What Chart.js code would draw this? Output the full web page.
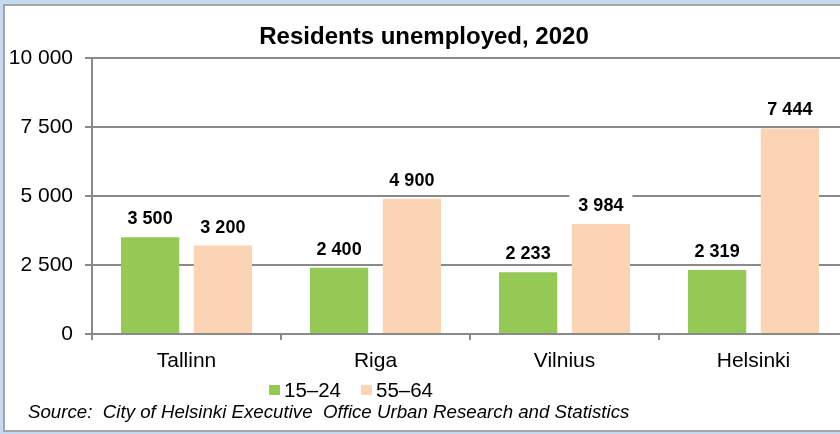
<!DOCTYPE html>
<html>
<head>
<meta charset="utf-8">
<script src="https://cdn.jsdelivr.net/npm/chart.js@4"></script>
<style>
  html, body { margin: 0; padding: 0; width: 840px; height: 434px; overflow: hidden; background: #c5d9f1; }
  #frame { position: absolute; left: 3px; top: 4px; width: 900px; height: 428px; box-sizing: border-box;
           border: 2px solid #a6a6a6; background: #fff; }
  #wrap { position: absolute; left: 0; top: 0; width: 860px; height: 434px; }
</style>
</head>
<body>
<div id="frame"></div>
<div id="wrap"><canvas id="unemployedChart" width="860" height="434"></canvas></div>
<script>
const cities = ['Tallinn', 'Riga', 'Vilnius', 'Helsinki'];
const age15to24 = [3500, 2400, 2233, 2319];
const age55to64 = [3200, 4900, 3984, 7444];
const seriesNames = ['15–24', '55–64'];
const yTicks = [0, 2500, 5000, 7500, 10000];
const sourceText = 'Source:  City of Helsinki Executive  Office Urban Research and Statistics';

const FONT = "'Liberation Sans', Arial, sans-serif";
const colours = { young: '#94c955', old: '#fbd4b4', grid: '#8a8a8a' };

const spaced = v => String(v).replace(/\B(?=(\d{3})+(?!\d))/g, ' ');

// value labels above each bar, white box behind them
const barLabels = {
  id: 'barLabels',
  afterDatasetsDraw(chart) {
    const ctx = chart.ctx;
    ctx.save();
    ctx.font = 'bold 18px ' + FONT;
    ctx.textAlign = 'center';
    ctx.textBaseline = 'middle';
    chart.data.datasets.forEach((ds, i) => {
      chart.getDatasetMeta(i).data.forEach((bar, j) => {
        const txt = spaced(ds.data[j]);
        const w = ctx.measureText(txt).width;
        const y = bar.y - 19;
        ctx.fillStyle = '#fff';
        ctx.fillRect(bar.x - w / 2 - 9, y - 10, w + 18, 20);
        ctx.fillStyle = '#000';
        ctx.fillText(txt, bar.x, y + 1);
      });
    });
    ctx.restore();
  }
};

// legend and source line under the axis
const footer = {
  id: 'footer',
  afterDraw(chart) {
    const ctx = chart.ctx;
    ctx.save();
    ctx.font = '20.5px ' + FONT;
    ctx.textBaseline = 'middle';
    const items = [[269, colours.young], [361, colours.old]];
    items.forEach(([x, c], i) => {
      ctx.fillStyle = c;
      ctx.fillRect(x, 385, 11, 10);
      ctx.fillStyle = '#000';
      ctx.fillText(seriesNames[i], x + 15, 391);
    });
    ctx.font = 'italic 18.7px ' + FONT;
    ctx.fillText(sourceText, 28, 413);
    ctx.restore();
  }
};

const ctx = document.getElementById('unemployedChart').getContext('2d');
new Chart(ctx, {
  type: 'bar',
  data: {
    labels: cities,
    datasets: [
      { label: seriesNames[0], data: age15to24, backgroundColor: colours.young },
      { label: seriesNames[1], data: age55to64, backgroundColor: colours.old }
    ]
  },
  options: {
    responsive: false,
    animation: false,
    categoryPercentage: 0.77,
    barPercentage: 0.8,
    layout: { padding: { left: 0, right: 12, top: 0, bottom: 0 } },
    plugins: {
      legend: { display: false },
      tooltip: { enabled: false },
      title: {
        display: true,
        text: 'Residents unemployed, 2020',
        color: '#000',
        font: { family: FONT, size: 24, weight: 'bold' },
        padding: { top: 23, bottom: 6 }
      }
    },
    scales: {
      x: {
        afterFit: s => { s.height = 100; },
        grid: { drawOnChartArea: false, drawTicks: true, tickLength: 6, color: colours.grid, lineWidth: 2 },
        border: { color: colours.grid, width: 2 },
        ticks: { color: '#000', font: { family: FONT, size: 21 }, padding: 9 }
      },
      y: {
        min: 0,
        max: 10000,
        afterFit: s => { s.width = 92; },
        afterBuildTicks: s => { s.ticks = yTicks.map(v => ({ value: v })); },
        grid: { color: colours.grid, lineWidth: 2, tickLength: 7 },
        border: { color: colours.grid, width: 2 },
        ticks: { color: '#000', font: { family: FONT, size: 21 }, padding: 12, callback: v => spaced(v) }
      }
    }
  },
  plugins: [barLabels, footer]
});
</script>
</body>
</html>
